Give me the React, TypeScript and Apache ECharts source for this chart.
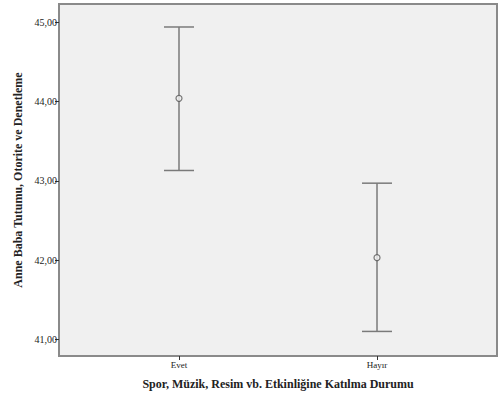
import React, { useEffect, useRef } from "react";
import * as echarts from "echarts";

const categories = ["Evet", "Hayır"];
const means = [44.04, 42.03];
const lowerBounds = [43.13, 41.1];
const upperBounds = [44.94, 42.97];
const yTicks = [41, 42, 43, 44, 45];

export default function App() {
  const ref = useRef<HTMLDivElement>(null);
  useEffect(() => {
    if (!ref.current) return;
    const chart = echarts.init(ref.current, null, { renderer: "svg" });
    const serif = "Liberation Serif";
    const barData = categories.map((_, i) => [i, lowerBounds[i], upperBounds[i]]);
    const meanData = categories.map((_, i) => [i, means[i]]);
    chart.setOption({
      animation: false,
      backgroundColor: "#ffffff",
      grid: {
        left: 59,
        top: 4,
        width: 438,
        height: 352,
        show: true,
        backgroundColor: "#F0F0F0",
        borderColor: "#8a8a8a",
        borderWidth: 2,
      },
      xAxis: {
        type: "value",
        min: -0.606,
        max: 1.606,
        splitLine: { show: false },
        axisLine: { show: true, onZero: false, lineStyle: { color: "#8a8a8a", width: 2 } },
        axisTick: {
          show: true,
          customValues: [0, 1],
          length: 4,
          lineStyle: { color: "#333" },
        },
        axisLabel: {
          customValues: [0, 1],
          formatter: (v: number) => categories[Math.round(v)] ?? "",
          fontFamily: serif,
          fontSize: 9,
          color: "#222",
          margin: 4,
        },
        name: "Spor, Müzik, Resim vb. Etkinliğine Katılma Durumu",
        nameLocation: "middle",
        nameGap: 22,
        nameTextStyle: {
          fontFamily: serif,
          fontWeight: "bold",
          fontSize: 12,
          color: "#222",
        },
      },
      yAxis: {
        type: "value",
        min: 40.79,
        max: 45.23,
        splitLine: { show: false },
        axisLine: { show: true, onZero: false, lineStyle: { color: "#8a8a8a", width: 2 } },
        axisTick: {
          show: true,
          customValues: yTicks,
          length: 4,
          lineStyle: { color: "#333" },
        },
        axisLabel: {
          customValues: yTicks,
          formatter: (v: number) => v.toFixed(2).replace(".", ","),
          fontFamily: serif,
          fontSize: 10,
          color: "#222",
          margin: 2,
        },
        name: "Anne Baba Tutumu, Otorite ve Denetleme",
        nameLocation: "middle",
        nameRotate: 90,
        nameGap: 34,
        nameTextStyle: {
          fontFamily: serif,
          fontWeight: "bold",
          fontSize: 12,
          color: "#222",
        },
      },
      series: [
        {
          type: "custom",
          data: barData,
          renderItem: (params: any, api: any) => {
            const x = api.value(0);
            const lo = api.coord([x, api.value(1)]);
            const hi = api.coord([x, api.value(2)]);
            const hw = 15;
            const style = { stroke: "#7a7a7a", lineWidth: 1.5 };
            return {
              type: "group",
              children: [
                { type: "line", shape: { x1: lo[0], y1: lo[1], x2: hi[0], y2: hi[1] }, style },
                { type: "line", shape: { x1: hi[0] - hw, y1: hi[1], x2: hi[0] + hw, y2: hi[1] }, style },
                { type: "line", shape: { x1: lo[0] - hw, y1: lo[1], x2: lo[0] + hw, y2: lo[1] }, style },
              ],
            };
          },
          z: 2,
        },
        {
          type: "scatter",
          data: meanData,
          symbol: "circle",
          symbolSize: 6,
          itemStyle: { color: "#F0F0F0", borderColor: "#555", borderWidth: 1.2 },
          z: 3,
        },
      ],
    });
    return () => chart.dispose();
  }, []);
  return (
    <div
      ref={ref}
      style={{ position: "absolute", left: 0, top: 0, width: 500, height: 401 }}
    />
  );
}
